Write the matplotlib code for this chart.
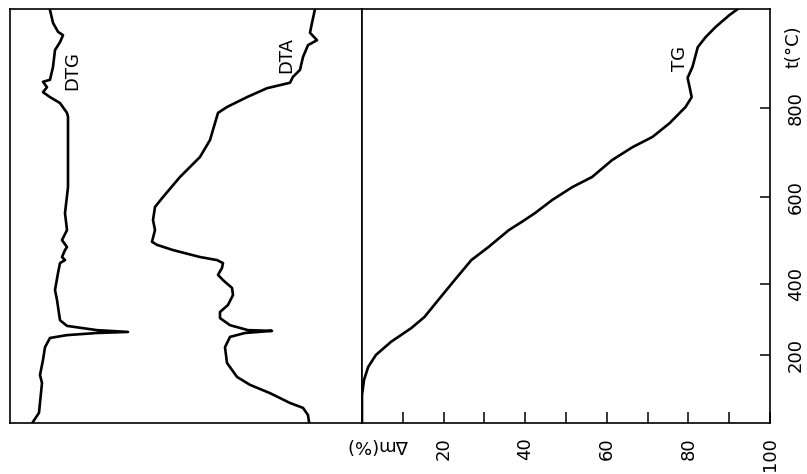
import numpy as np
import matplotlib
matplotlib.use('Agg')
import matplotlib.pyplot as plt

# DTG-Kurve: Temperatur (°C) und Ausschlag (willk. Einheiten)
dtg_t = [23, 47, 126, 147, 187, 222, 248, 256, 262, 265, 270, 282, 298, 355, 383,
         425, 448, 455, 462, 478, 485, 501, 524, 563, 622, 780, 789, 810, 822, 832,
         842, 853, 857, 883, 917, 933, 947, 954, 972, 998]
dtg_u = [23, 29, 32, 30, 33, 35, 40, 57, 87, 118, 87, 57, 50, 47, 45,
         48, 50, 55, 52, 55, 57, 52, 57, 55, 58, 58, 57, 50, 40, 33,
         37, 33, 40, 43, 45, 50, 53, 48, 43, 40]

# DTA-Kurve
dta_t = [23, 41, 60, 73, 99, 121, 142, 179, 222, 251, 262, 268, 270, 284, 304, 321,
         341, 369, 389, 409, 421, 437, 448, 455, 462, 478, 490, 497, 524, 547, 577,
         600, 645, 690, 728, 789, 802, 822, 840, 851, 863, 877, 903, 927, 937, 952,
         972, 1000]
dta_u = [299, 298, 293, 280, 260, 240, 227, 217, 215, 220, 235, 262, 238, 220, 210, 210,
         218, 223, 222, 213, 208, 212, 213, 207, 190, 163, 147, 142, 145, 143, 145,
         153, 170, 190, 200, 208, 217, 237, 257, 280, 283, 290, 293, 298, 307, 300,
         302, 305]

# TG-Kurve: Massenverlust in %
tg_t = [20, 94, 134, 168, 200, 237, 276, 307, 355, 409, 455, 485, 524, 543, 563, 593,
        622, 645, 683, 712, 735, 766, 802, 822, 842, 861, 883, 923, 943, 964, 988, 1000]
tg_dm = [0, 0, 0.5, 1.5, 3.4, 7.1, 12.1, 15.3, 18.7, 22.7, 26.8, 31.0, 36.0, 39.2, 42.4, 46.6,
         51.5, 56.4, 61.3, 66.3, 71.2, 75.4, 79.3, 80.8, 80.3, 79.8, 81.0, 82.3, 84.2, 86.7, 90.1, 92.1]

dm_ticks = [20, 40, 60, 80, 100]
dm_minor = [10, 30, 50, 70, 90]
t_ticks = [200, 400, 600, 800]

# Temperaturachse im Original nicht ganz linear -> Stuetzstellen
T_KNOTS = [-1000, 20, 200, 400, 600, 800, 1000, 3000]
POS_KNOTS = [-385, 0, 68, 139, 226, 315, 414, 1404]


def fwd(t):
    return np.interp(t, T_KNOTS, POS_KNOTS)


def inv(p):
    return np.interp(p, POS_KNOTS, T_KNOTS)


plt.rcParams['font.family'] = 'DejaVu Sans'
FS = 13
LW = 1.9

fig = plt.figure(figsize=(8.07, 4.74), dpi=100)
L, R, D = 10 / 807, 770 / 807, 362 / 807
B, H = 51 / 474, 414 / 474
ax1 = fig.add_axes([L, B, D - L, H])
ax2 = fig.add_axes([D, B, R - D, H], sharey=ax1)

ax1.set_yscale('function', functions=(fwd, inv))
ax1.set_ylim(20, 1000)

ax1.plot(dtg_u, dtg_t, color='black', lw=LW)
ax1.plot(dta_u, dta_t, color='black', lw=LW)
ax1.set_xlim(0, 352)
ax1.tick_params(left=False, bottom=False, labelleft=False, labelbottom=False)

ax2.plot(tg_dm, tg_t, color='black', lw=LW)
ax2.set_xlim(0, 100)
ax2.set_xticks(dm_ticks)
ax2.set_xticks(dm_minor, minor=True)
ax2.tick_params(axis='x', which='both', direction='in', length=8, width=1.1,
                pad=10, labelsize=FS, labelrotation=90)
ax2.set_yticks(t_ticks)
ax2.tick_params(axis='y', direction='in', length=7, width=1.1, left=False, right=True,
                labelleft=False, labelright=True, pad=12, labelsize=FS)
for lbl in ax2.get_yticklabels():
    lbl.set_rotation(90)
    lbl.set_va('center')

for a in (ax1, ax2):
    for s in a.spines.values():
        s.set_linewidth(1.2)

ax1.text(62, 875, 'DTG', rotation=90, ha='center', va='center', fontsize=FS)
ax1.text(276, 907, 'DTA', rotation=90, ha='center', va='center', fontsize=FS)
ax2.text(78, 901, 'TG', rotation=90, ha='center', va='center', fontsize=FS)
ax2.text(1.058, 0.91, 't(°C)', rotation=90, ha='center', va='center',
         fontsize=FS, transform=ax2.transAxes)
fig.text(377 / 807, 1 - 445 / 474, 'Δm(%)', rotation=180, ha='center', va='center', fontsize=FS)

fig.savefig('out.png', dpi=100)
